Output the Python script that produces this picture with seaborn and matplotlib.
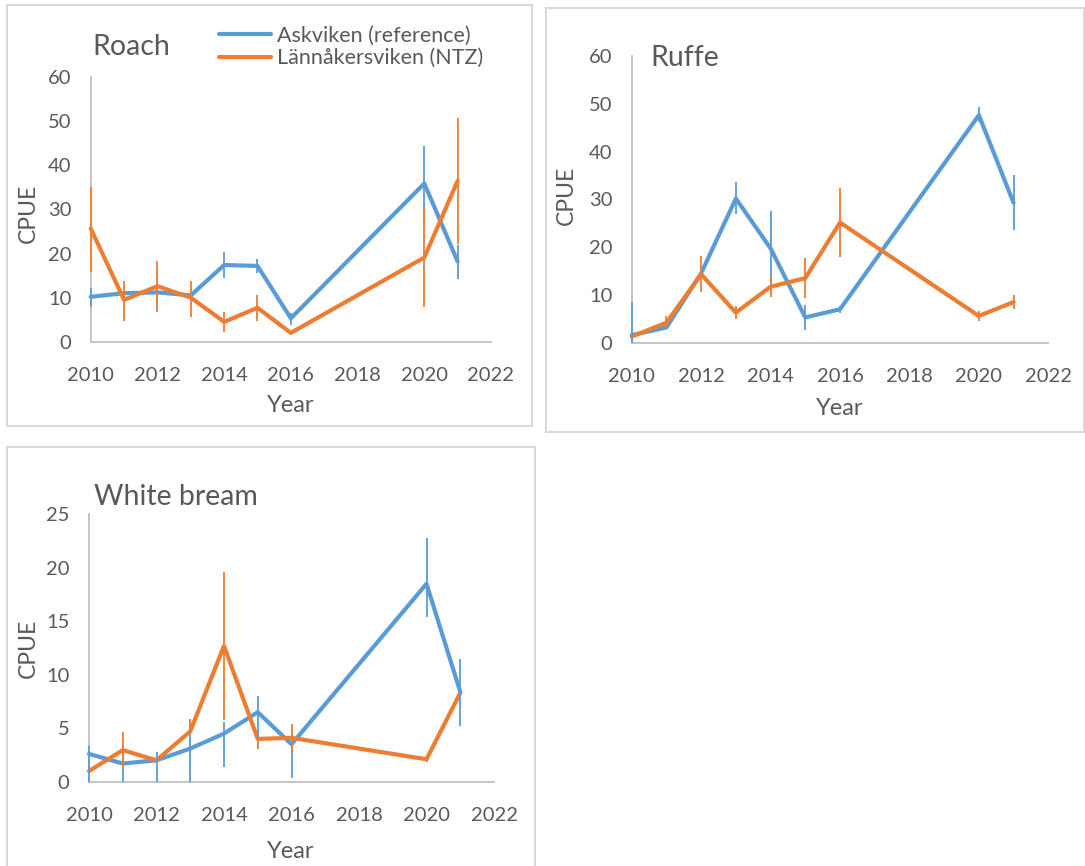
import matplotlib
matplotlib.use("Agg")
import matplotlib.pyplot as plt
import numpy as np
import pandas as pd
import seaborn as sns
from matplotlib.patches import Rectangle

sns.set_style("white")
plt.rcParams["font.family"] = ["Lato", "DejaVu Sans"]

TEXT = "#595959"
GRID = "#BFBFBF"
BLUE = "#5B9BD5"
ORANGE = "#ED7D31"

years = [2010, 2011, 2012, 2013, 2014, 2015, 2016, 2020, 2021]
sites = ["Askviken (reference)", "Lännåkersviken (NTZ)"]

# Roach
roach_ask = [10.2, 11.0, 11.2, 10.5, 17.4, 17.2, 5.3, 35.9, 18.2]
roach_ask_lo = [2.3, 0, 3.6, 0, 3.0, 1.7, 1.5, 8.7, 4.0]
roach_ask_hi = [1.9, 0, 3.2, 0, 3.0, 1.6, 1.1, 8.6, 3.7]
roach_lan = [25.7, 9.5, 12.6, 10.0, 4.5, 7.7, 2.0, 19.1, 36.5]
roach_lan_lo = [9.8, 4.7, 5.8, 4.3, 2.2, 3.0, 0, 11.2, 14.4]
roach_lan_hi = [9.3, 4.3, 5.7, 3.8, 2.2, 3.0, 0, 11.2, 14.3]

# Ruffe
ruffe_ask = [1.7, 3.3, 14.6, 30.2, 19.8, 5.4, 7.1, 47.6, 29.3]
ruffe_ask_lo = [1.7, 0, 0, 3.2, 8.0, 2.6, 0.7, 1.4, 5.7]
ruffe_ask_hi = [7.0, 0, 0, 3.5, 7.8, 2.6, 0.7, 1.8, 5.8]
ruffe_lan = [1.4, 4.3, 14.4, 6.4, 11.8, 13.6, 25.2, 5.7, 8.6]
ruffe_lan_lo = [0, 1.3, 3.8, 1.4, 2.1, 4.2, 7.2, 1.1, 1.5]
ruffe_lan_hi = [0, 1.3, 3.8, 1.4, 2.1, 4.2, 7.2, 1.1, 1.5]

# White bream
wb_ask = [2.6, 1.7, 2.0, 3.1, 4.5, 6.5, 3.5, 18.5, 8.4]
wb_ask_lo = [2.6, 1.7, 2.0, 3.1, 3.1, 2.4, 3.2, 3.1, 3.2]
wb_ask_hi = [0.7, 1.7, 0.8, 2.8, 1.1, 1.5, 1.0, 4.3, 3.1]
wb_lan = [1.0, 2.95, 2.0, 4.7, 12.7, 4.0, 4.1, 2.1, 8.3]
wb_lan_lo = [0, 1.7, 0, 0.2, 6.9, 0.9, 1.3, 0.3, 0]
wb_lan_hi = [0, 1.7, 0, 1.2, 6.9, 0.2, 1.3, 0.3, 0]

W, H = 1085, 866
fig = plt.figure(figsize=(W / 100, H / 100), dpi=100)


def px_rect(x0, y0, x1, y1):
    # pixel box (top-left origin) -> figure fraction [l, b, w, h]
    return [x0 / W, 1 - y1 / H, (x1 - x0) / W, (y1 - y0) / H]


# panel frames
for x0, y0, x1, y1 in [(7, 5, 532, 426), (546, 8, 1084, 432), (7, 447, 535, 880)]:
    l, b, w, h = px_rect(x0, y0, x1, y1)
    fig.patches.append(Rectangle((l, b), w, h, transform=fig.transFigure,
                                 fill=False, edgecolor="#D9D9D9", lw=1.5))

panels = [
    ("Roach", px_rect(90.7, 77.3, 491, 341.7), 60, 10,
     (roach_ask, roach_ask_lo, roach_ask_hi), (roach_lan, roach_lan_lo, roach_lan_hi),
     (92, 47), (28, 213), (291, 406)),
    ("Ruffe", px_rect(631.7, 55.7, 1048.3, 343.3), 60, 10,
     (ruffe_ask, ruffe_ask_lo, ruffe_ask_hi), (ruffe_lan, ruffe_lan_lo, ruffe_lan_hi),
     (650, 58), (566, 195), (840, 409)),
    ("White bream", px_rect(89, 514.3, 494, 781.7), 25, 5,
     (wb_ask, wb_ask_lo, wb_ask_hi), (wb_lan, wb_lan_lo, wb_lan_hi),
     (94, 497), (28, 648), (291, 851)),
]

for name, rect, ymax, ystep, ask, lan, tpos, ylpos, xlpos in panels:
    ax = fig.add_axes(rect)
    df = pd.DataFrame({
        "Year": years * 2,
        "CPUE": ask[0] + lan[0],
        "Site": [sites[0]] * len(years) + [sites[1]] * len(years),
    })
    sns.lineplot(data=df, x="Year", y="CPUE", hue="Site", palette=[BLUE, ORANGE],
                 lw=3, errorbar=None, ax=ax, legend=False)
    for (vals, lo, hi), col, z in [(ask, BLUE, 3), (lan, ORANGE, 4)]:
        ax.errorbar(years, vals, yerr=[lo, hi], fmt="none", ecolor=col,
                    elinewidth=1.3, capsize=0, zorder=z, clip_on=False)
    for line in ax.lines:
        line.set_solid_capstyle("round")
        line.set_clip_on(False)

    ax.set_xlim(2010, 2022)
    ax.set_ylim(0, ymax)
    ax.set_xticks(np.arange(2010, 2023, 2))
    ax.set_yticks(np.arange(0, ymax + 1, ystep))
    sns.despine(ax=ax)
    for s in ["left", "bottom"]:
        ax.spines[s].set_color(GRID)
        ax.spines[s].set_linewidth(1.3)
    ax.tick_params(axis="both", colors=GRID, direction="out", length=6, width=1.3,
                   labelcolor=TEXT, labelsize=14.5)
    ax.tick_params(axis="x", pad=12)
    ax.tick_params(axis="y", pad=8)
    ax.set_xlabel("")
    ax.set_ylabel("")

    fig.text(tpos[0] / W, 1 - tpos[1] / H, name, fontsize=20.5, color=TEXT,
             ha="left", va="center")
    fig.text(ylpos[0] / W, 1 - ylpos[1] / H, "CPUE", fontsize=16.5, color=TEXT,
             rotation=90, ha="center", va="center")
    fig.text(xlpos[0] / W, 1 - xlpos[1] / H, "Year", fontsize=17, color=TEXT,
             ha="center", va="center")

handles = [plt.Line2D([], [], color=BLUE, lw=3), plt.Line2D([], [], color=ORANGE, lw=3)]
leg = fig.legend(handles, sites, loc="upper left", bbox_to_anchor=(219 / W, 1 - 26 / H),
                 frameon=False, fontsize=15.5, handlelength=2.4, handletextpad=0.3,
                 labelspacing=0.1, borderpad=0, borderaxespad=0)
for t in leg.get_texts():
    t.set_color(TEXT)

fig.savefig("out.png", dpi=100)
